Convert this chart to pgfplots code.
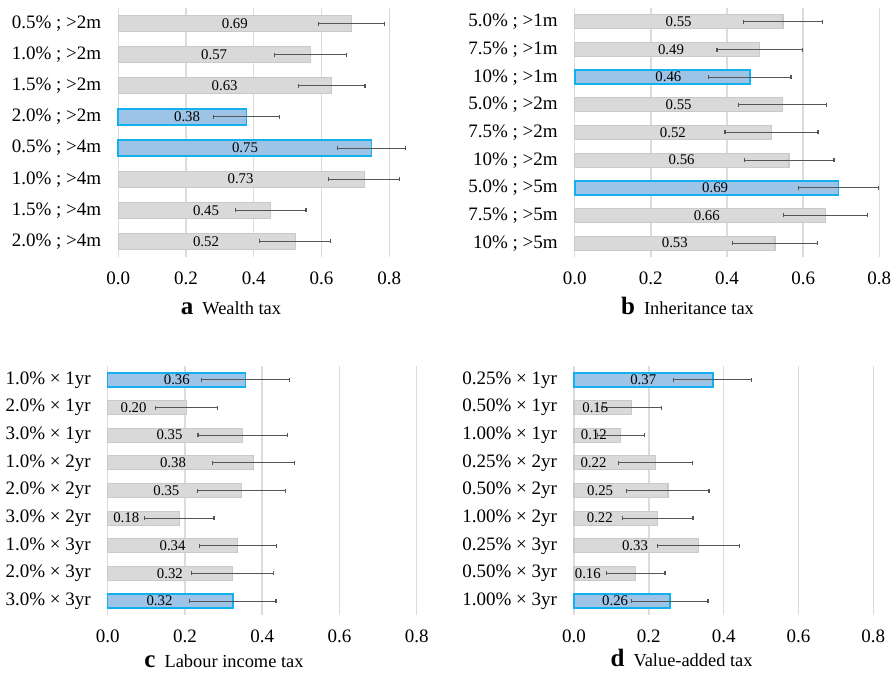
\documentclass[border=0pt]{standalone}
\usepackage{fontspec}
\setmainfont{Liberation Serif}
\usepackage{pgfplots}
\usepackage{pgfplotstable}
\pgfplotsset{compat=1.18}
\definecolor{barg}{HTML}{D9D9D9}
\definecolor{bargd}{HTML}{C9C9C9}
\definecolor{barb}{HTML}{9DC3E6}
\definecolor{barbd}{HTML}{13B0EE}
\definecolor{errc}{HTML}{555555}
\definecolor{gridc}{HTML}{DCDCDC}

\pgfplotstableread{
y val err lx hl lab
0 0.689 0.098 0.344 0 0.69
1 0.568 0.106 0.283 0 0.57
2 0.630 0.098 0.314 0 0.63
3 0.379 0.098 0.203 1 0.38
4 0.748 0.100 0.374 1 0.75
5 0.726 0.105 0.361 0 0.73
6 0.450 0.104 0.259 0 0.45
7 0.522 0.104 0.259 0 0.52
}\dataa
\pgfplotstableread{
y val err lx hl lab
0 0.547 0.104 0.273 0 0.55
1 0.486 0.112 0.253 0 0.49
2 0.460 0.108 0.246 1 0.46
3 0.546 0.116 0.273 0 0.55
4 0.517 0.122 0.258 0 0.52
5 0.563 0.118 0.281 0 0.56
6 0.693 0.105 0.369 1 0.69
7 0.659 0.110 0.347 0 0.66
8 0.526 0.112 0.263 0 0.53
}\datab
\pgfplotstableread{
y val err lx hl lab
0 0.357 0.114 0.179 1 0.36
1 0.204 0.081 0.067 0 0.20
2 0.350 0.116 0.160 0 0.35
3 0.377 0.106 0.169 0 0.38
4 0.347 0.114 0.152 0 0.35
5 0.185 0.090 0.048 0 0.18
6 0.337 0.100 0.168 0 0.34
7 0.324 0.106 0.161 0 0.32
8 0.324 0.112 0.134 1 0.32
}\datac
\pgfplotstableread{
y val err lx hl lab
0 0.371 0.104 0.185 1 0.37
1 0.154 0.079 0.057 0 0.15
2 0.125 0.063 0.053 0 0.12
3 0.218 0.099 0.052 0 0.22
4 0.251 0.110 0.070 0 0.25
5 0.224 0.094 0.069 0 0.22
6 0.333 0.109 0.163 0 0.33
7 0.165 0.078 0.037 0 0.16
8 0.256 0.102 0.110 1 0.26
}\datad

\pgfplotsset{
  panel/.style={
    scale only axis, anchor=south west,
    height=124.5pt,
    xmin=0, xmax=0.8, y dir=reverse,
    axis x line*=bottom, axis y line*=left,
    x axis line style={draw=none},
    y axis line style={draw=gridc, line width=0.7pt},
    major tick length=0pt,
    xmajorgrids, grid style={color=gridc, line width=0.7pt},
    xtick={0,0.2,0.4,0.6,0.8},
    /pgf/number format/assume math mode=true,
    xticklabel style={/pgf/number format/fixed, /pgf/number format/fixed zerofill,
      /pgf/number format/precision=1, font=\fontsize{9.5}{11}\selectfont, yshift=-4pt},
    yticklabel style={font=\fontsize{9.5}{11}\selectfont, xshift=-5pt},
    clip=false,
  },
  errs/.style={
    /pgfplots/error bars/x dir=both,
    /pgfplots/error bars/x explicit,
    /pgfplots/error bars/error mark=|,
    /pgfplots/error bars/error bar style={color=errc, line width=0.55pt},
    /pgfplots/error bars/error mark options={color=errc, mark size=1pt, line width=0.6pt}},
  gbar/.style={xbar, bar shift=0pt, fill=barg, draw=bargd, line width=0.6pt,
    restrict expr to domain={\thisrow{hl}}{-0.5:0.5}, errs},
  bbar/.style={xbar, bar shift=0pt, fill=barb, draw=barbd, line width=0.8pt,
    restrict expr to domain={\thisrow{hl}}{0.5:1.5}, errs},
  lbl/.style={draw=none, mark=none, nodes near coords, point meta=explicit symbolic,
    every node near coord/.append style={anchor=center, font=\fontsize{7.4}{8}\selectfont, text=black}},
}

\begin{document}
\begin{tikzpicture}
\useasboundingbox (0,0) rectangle (448pt,336.5pt);
% panel a
\begin{axis}[panel, at={(59.15pt,208pt)}, width=135.5pt,
  ymin=-0.5, ymax=7.5, ytick={0,...,7},
  yticklabels={0.5\% ; >2m, 1.0\% ; >2m, 1.5\% ; >2m, 2.0\% ; >2m, 0.5\% ; >4m, 1.0\% ; >4m, 1.5\% ; >4m, 2.0\% ; >4m}]
\addplot[gbar, bar width=8pt] table[x=val, y=y, x error=err]{\dataa};
\addplot[bbar, bar width=8pt] table[x=val, y=y, x error=err]{\dataa};
\addplot[lbl] table[x=lx, y=y, meta=lab]{\dataa};
\end{axis}
% panel b
\begin{axis}[panel, at={(287.35pt,208pt)}, width=152.3pt,
  ymin=-0.5, ymax=8.5, ytick={0,...,8},
  yticklabels={5.0\% ; >1m, 7.5\% ; >1m, 10\% ; >1m, 5.0\% ; >2m, 7.5\% ; >2m, 10\% ; >2m, 5.0\% ; >5m, 7.5\% ; >5m, 10\% ; >5m}]
\addplot[gbar, bar width=7pt] table[x=val, y=y, x error=err]{\datab};
\addplot[bbar, bar width=7pt] table[x=val, y=y, x error=err]{\datab};
\addplot[lbl] table[x=lx, y=y, meta=lab]{\datab};
\end{axis}
% panel c
\begin{axis}[panel, at={(53.85pt,29pt)}, width=154.5pt,
  ymin=-0.5, ymax=8.5, ytick={0,...,8},
  yticklabels={1.0\% × 1yr, 2.0\% × 1yr, 3.0\% × 1yr, 1.0\% × 2yr, 2.0\% × 2yr, 3.0\% × 2yr, 1.0\% × 3yr, 2.0\% × 3yr, 3.0\% × 3yr}]
\addplot[gbar, bar width=7pt] table[x=val, y=y, x error=err]{\datac};
\addplot[bbar, bar width=7pt] table[x=val, y=y, x error=err]{\datac};
\addplot[lbl] table[x=lx, y=y, meta=lab]{\datac};
\end{axis}
% panel d
\begin{axis}[panel, at={(287pt,29pt)}, width=149.65pt,
  ymin=-0.5, ymax=8.5, ytick={0,...,8},
  yticklabels={0.25\% × 1yr, 0.50\% × 1yr, 1.00\% × 1yr, 0.25\% × 2yr, 0.50\% × 2yr, 1.00\% × 2yr, 0.25\% × 3yr, 0.50\% × 3yr, 1.00\% × 3yr}]
\addplot[gbar, bar width=7pt] table[x=val, y=y, x error=err]{\datad};
\addplot[bbar, bar width=7pt] table[x=val, y=y, x error=err]{\datad};
\addplot[lbl] table[x=lx, y=y, meta=lab]{\datad};
\end{axis}
% titles
\node[anchor=base, inner sep=0pt] at (115.5pt,179pt) {{\fontsize{12.5}{14}\selectfont\bfseries a}\hspace{4.5pt}{\fontsize{9.2}{11}\selectfont Wealth tax}};
\node[anchor=base, inner sep=0pt] at (343.75pt,179pt) {{\fontsize{12.5}{14}\selectfont\bfseries b}\hspace{4.5pt}{\fontsize{9.2}{11}\selectfont Inheritance tax}};
\node[anchor=base, inner sep=0pt] at (112pt,2.8pt) {{\fontsize{12.5}{14}\selectfont\bfseries c}\hspace{4.5pt}{\fontsize{9.2}{11}\selectfont Labour income tax}};
\node[anchor=base, inner sep=0pt] at (340.8pt,3pt) {{\fontsize{12.5}{14}\selectfont\bfseries d}\hspace{4.5pt}{\fontsize{9.2}{11}\selectfont Value-added tax}};
\end{tikzpicture}
\end{document}
